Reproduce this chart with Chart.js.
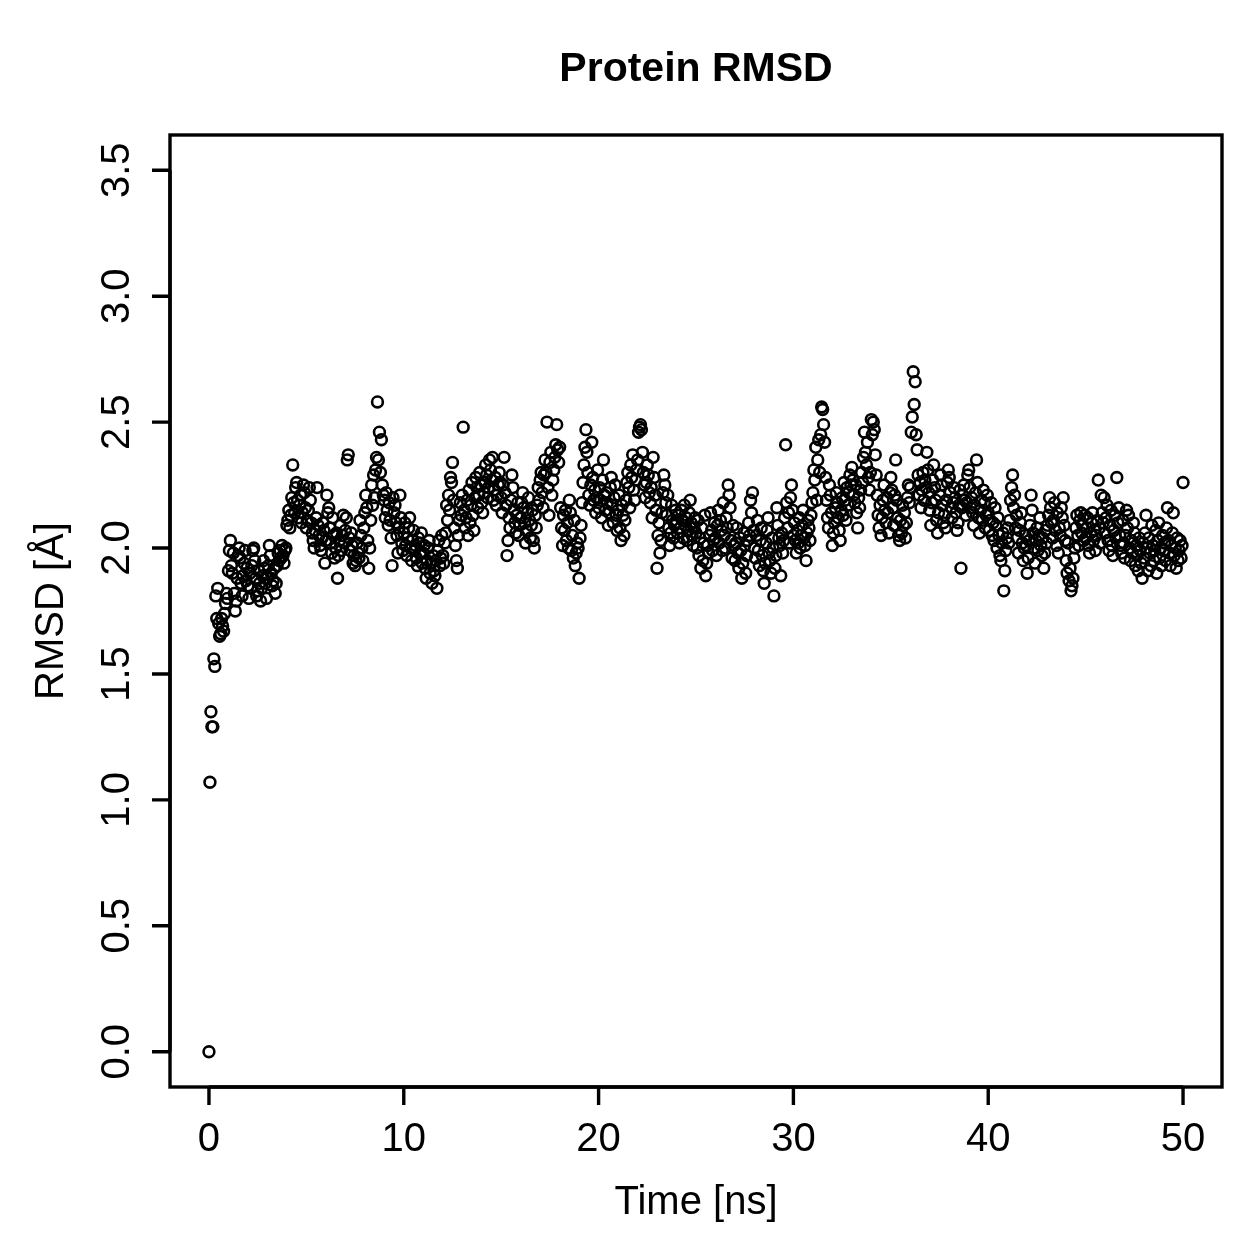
<!DOCTYPE html>
<html>
<head>
<meta charset="utf-8">
<title>Protein RMSD</title>
<script src="https://cdn.jsdelivr.net/npm/chart.js@4/dist/chart.umd.min.js"></script>
<style>
  html, body { margin: 0; padding: 0; background: #ffffff; }
  #wrap { width: 1259px; height: 1259px; }
</style>
</head>
<body>
<div id="wrap"><canvas id="rmsdChart" width="1259" height="1259"></canvas></div>
<script>
// Frame spacing of the trajectory (ns)
const frameStep = 0.05;

// RMSD per frame [Å] (one row = 1 ns)
const rmsd = [
  0.00,1.07,1.35,1.29,1.29,1.56,1.53,1.81,1.72,1.84,1.70,1.65,1.66,1.72,1.69,1.67,1.74,1.78,1.82,1.80,
  1.91,1.99,2.03,1.93,1.90,1.98,1.82,1.75,1.79,1.88,1.97,2.00,1.96,1.86,1.81,1.89,1.94,1.99,1.87,1.92,
  1.85,1.80,1.90,1.84,1.93,1.99,2.00,1.95,1.88,1.81,1.83,1.91,1.86,1.79,1.84,1.89,1.95,1.92,1.86,1.80,
  1.88,1.93,2.01,1.97,1.90,1.85,1.87,1.92,1.82,1.86,1.93,1.98,1.95,1.99,1.96,2.01,1.97,1.94,1.99,2.00,
  2.09,2.11,2.15,2.08,2.13,2.20,2.33,2.18,2.14,2.24,2.26,2.19,2.12,2.17,2.21,2.10,2.14,2.25,2.22,2.16,
  2.08,2.11,2.15,2.24,2.19,2.10,2.06,2.03,2.00,2.07,2.12,2.24,2.09,2.05,2.01,1.99,2.04,2.10,2.07,1.94,
  2.03,2.21,2.14,2.16,2.08,2.02,1.98,2.12,2.05,1.96,2.00,2.06,1.88,1.97,2.03,2.09,1.99,2.05,2.13,2.02,
  2.07,2.12,2.35,2.37,2.04,1.99,2.06,2.01,1.94,1.97,1.93,1.95,2.02,1.98,1.96,2.11,2.05,2.00,1.95,2.08,
  2.14,2.21,2.16,2.03,1.92,2.00,2.11,2.25,2.17,2.29,2.20,2.31,2.36,2.58,2.35,2.46,2.30,2.43,2.25,2.21,
  2.19,2.12,2.22,2.15,2.09,2.18,2.11,2.04,1.93,2.20,2.14,2.17,2.10,2.05,1.98,2.08,2.21,2.12,2.02,1.99,
  2.06,2.10,2.01,1.97,2.04,2.08,2.12,2.00,1.95,2.03,2.07,1.99,2.01,1.96,1.93,2.04,2.02,1.98,2.06,1.94,
  1.98,2.01,1.92,1.88,1.95,2.00,2.03,1.90,1.94,1.86,1.97,1.91,1.89,1.95,1.84,1.99,2.03,1.93,1.96,2.05,
  1.97,1.94,2.02,2.06,2.17,2.11,2.21,2.15,2.28,2.26,2.34,2.19,2.08,2.01,1.95,1.92,2.05,2.11,2.18,2.13,
  2.21,2.48,2.15,2.08,2.12,2.19,2.05,2.23,2.10,2.17,2.26,2.13,2.07,2.20,2.28,2.24,2.16,2.21,2.30,2.25,
  2.18,2.14,2.22,2.26,2.33,2.29,2.20,2.24,2.35,2.31,2.27,2.36,2.19,2.23,2.28,2.17,2.21,2.25,2.30,2.26,
  2.20,2.14,2.25,2.36,2.22,2.17,1.97,2.03,2.12,2.08,2.19,2.29,2.24,2.15,2.10,2.06,2.13,2.18,2.05,2.09,
  2.12,2.18,2.22,2.16,2.10,2.02,2.07,2.14,2.20,2.11,2.04,2.09,2.15,2.03,2.00,2.13,2.08,2.17,2.24,2.19,
  2.27,2.30,2.22,2.16,2.29,2.35,2.30,2.50,2.24,2.13,2.34,2.38,2.21,2.27,2.31,2.36,2.41,2.49,2.39,2.34,
  2.40,2.16,2.08,2.01,2.13,2.07,2.15,2.03,2.10,2.00,2.19,2.14,1.99,2.05,1.96,2.11,1.93,1.98,2.02,2.00,
  1.88,2.04,2.09,2.18,2.26,2.33,2.40,2.47,2.38,2.30,2.21,2.17,2.25,2.42,2.28,2.19,2.23,2.14,2.20,2.31,
  2.16,2.24,2.19,2.12,2.27,2.35,2.21,2.15,2.22,2.18,2.09,2.14,2.24,2.28,2.17,2.10,2.20,2.25,2.13,2.07,
  2.15,2.21,2.08,2.03,2.17,2.13,2.05,2.11,2.19,2.26,2.30,2.24,2.16,2.33,2.28,2.37,2.23,2.19,2.27,2.31,
  2.35,2.46,2.48,2.49,2.47,2.38,2.30,2.25,2.20,2.26,2.33,2.29,2.22,2.18,2.24,2.12,2.36,2.28,2.21,2.15,
  1.92,2.05,2.10,1.98,2.03,2.14,2.22,2.29,2.25,2.18,2.13,2.21,2.08,2.01,2.06,2.17,2.11,2.04,2.09,2.15,
  2.10,2.06,2.13,2.02,2.08,2.15,2.11,2.04,2.17,2.09,2.12,2.03,2.07,2.14,2.19,2.10,2.05,2.01,2.08,2.12,
  2.06,2.00,2.11,1.97,2.04,1.92,2.08,1.95,2.02,2.13,1.89,1.94,2.01,1.98,2.05,2.14,2.07,1.99,2.03,2.10,
  2.04,1.97,2.09,2.15,2.02,2.11,2.07,1.99,2.18,2.05,2.00,2.12,2.08,2.25,2.21,2.16,2.03,1.96,2.09,2.01,
  1.95,2.02,2.08,1.98,1.92,2.04,1.99,1.88,1.94,2.06,2.01,1.90,1.97,2.03,2.10,2.05,2.19,2.14,2.22,2.07,
  2.00,1.96,2.05,2.11,1.99,1.93,2.03,2.08,1.97,1.91,1.86,1.94,2.02,2.07,2.12,1.98,1.95,1.90,2.04,2.00,
  1.81,1.92,1.97,2.16,2.09,2.04,2.01,1.89,2.06,1.98,2.03,2.12,2.41,2.18,2.08,2.14,2.02,2.20,2.25,2.15,
  2.05,2.10,2.03,1.98,2.07,2.02,2.12,2.00,2.05,2.09,2.15,2.04,2.01,1.95,2.06,2.11,2.08,2.03,2.13,2.18,
  2.22,2.31,2.27,2.40,2.19,2.35,2.43,2.30,2.45,2.56,2.55,2.49,2.42,2.28,2.19,2.12,2.08,2.25,2.21,2.14,
  2.01,2.06,2.10,2.16,2.22,2.18,2.12,2.07,2.03,2.15,2.20,2.13,2.26,2.19,2.11,2.24,2.17,2.22,2.29,2.25,
  2.32,2.27,2.21,2.18,2.25,2.14,2.08,2.20,2.16,2.23,2.30,2.26,2.36,2.46,2.38,2.33,2.42,2.28,2.23,2.30,
  2.51,2.45,2.50,2.47,2.37,2.29,2.21,2.13,2.08,2.17,2.05,2.12,2.19,2.25,2.15,2.10,2.20,2.14,2.06,2.22,
  2.28,2.23,2.16,2.09,2.21,2.35,2.19,2.12,2.05,2.03,2.11,2.06,2.17,2.09,2.14,2.04,2.10,2.20,2.25,2.18,
  2.24,2.46,2.52,2.70,2.57,2.66,2.45,2.39,2.29,2.21,2.26,2.16,2.23,2.30,2.19,2.27,2.24,2.38,2.31,2.22,
  2.15,2.09,2.18,2.27,2.33,2.24,2.19,2.11,2.06,2.14,2.21,2.29,2.25,2.17,2.10,2.13,2.08,2.19,2.26,2.31,
  2.28,2.22,2.16,2.12,2.18,2.24,2.20,2.14,2.07,2.10,2.17,2.23,1.92,2.16,2.21,2.25,2.19,2.13,2.18,2.29,
  2.31,2.24,2.16,2.20,2.14,2.09,2.17,2.22,2.35,2.26,2.12,2.06,2.15,2.19,2.11,2.23,2.18,2.08,2.13,2.21,
  2.14,2.07,2.11,2.18,2.05,2.10,2.03,2.16,2.09,2.00,2.12,2.05,1.97,1.95,2.02,2.06,1.83,1.91,1.99,2.04,
  2.08,2.02,2.11,2.19,2.24,2.29,2.16,2.21,2.08,2.13,2.04,1.98,2.07,2.10,2.14,2.02,1.95,2.00,2.05,2.01,
  1.90,1.96,2.03,2.09,2.21,2.15,2.06,2.00,1.94,2.03,2.08,1.99,2.05,2.12,2.01,1.97,2.04,1.92,1.98,2.07,
  2.02,2.09,2.13,2.20,2.16,2.10,2.04,2.11,2.18,2.07,2.01,2.14,1.98,2.08,2.05,2.16,2.12,2.20,2.09,2.03,
  1.95,1.90,2.02,1.87,1.92,1.83,1.85,1.88,1.96,2.00,2.08,2.13,2.05,2.01,2.11,2.14,2.06,2.09,2.03,2.13,
  2.04,2.08,2.12,2.01,1.98,2.06,2.10,2.14,2.03,2.07,1.99,2.05,2.11,2.27,2.08,2.02,2.21,2.14,2.10,2.20,
  2.06,2.12,2.17,2.03,1.99,2.09,2.15,2.01,1.97,2.07,2.13,2.04,2.28,2.10,2.16,2.05,2.01,1.98,2.11,2.02,
  1.96,2.05,2.15,2.08,2.13,2.00,1.95,2.03,1.98,2.10,2.06,1.93,2.01,1.97,1.91,2.04,1.99,1.94,1.88,2.02,
  1.96,2.06,2.13,2.00,1.91,2.04,1.98,1.93,2.09,2.01,1.95,1.99,2.07,1.90,2.03,2.10,1.96,2.00,1.93,2.05,
  1.99,2.02,1.95,2.08,2.16,2.03,1.98,1.93,2.01,2.06,2.14,1.97,2.00,1.92,2.04,1.95,1.99,2.03,1.96,2.01,
  2.26
];

// Axis ticks
const xTicks = [0, 10, 20, 30, 40, 50];
const yTicks = [0.0, 0.5, 1.0, 1.5, 2.0, 2.5, 3.0, 3.5];

const points = rmsd.map((v, i) => ({ x: i * frameStep, y: v }));

const FONT = '"Liberation Sans", Arial, Helvetica, sans-serif';

// Draws R-style box, axes, ticks and labels from the chart's scales
const baseAxes = {
  id: 'baseAxes',
  afterDraw(chart) {
    const c = chart.ctx;
    const a = chart.chartArea;
    const xs = chart.scales.x;
    const ys = chart.scales.y;
    const tickLen = 18;
    c.save();
    c.strokeStyle = '#000';
    c.fillStyle = '#000';
    c.lineWidth = 3.4;
    c.strokeRect(a.left, a.top, a.right - a.left, a.bottom - a.top);

    // x axis
    c.beginPath();
    c.moveTo(xs.getPixelForValue(xTicks[0]), a.bottom);
    c.lineTo(xs.getPixelForValue(xTicks[xTicks.length - 1]), a.bottom);
    xTicks.forEach(t => {
      const px = xs.getPixelForValue(t);
      c.moveTo(px, a.bottom);
      c.lineTo(px, a.bottom + tickLen);
    });
    // y axis
    c.moveTo(a.left, ys.getPixelForValue(yTicks[0]));
    c.lineTo(a.left, ys.getPixelForValue(yTicks[yTicks.length - 1]));
    yTicks.forEach(t => {
      const py = ys.getPixelForValue(t);
      c.moveTo(a.left, py);
      c.lineTo(a.left - tickLen, py);
    });
    c.stroke();

    c.font = '40px ' + FONT;
    c.textAlign = 'center';
    c.textBaseline = 'middle';
    xTicks.forEach(t => {
      c.fillText(String(t), xs.getPixelForValue(t), a.bottom + 53);
    });
    yTicks.forEach(t => {
      c.save();
      c.translate(a.left - 52, ys.getPixelForValue(t));
      c.rotate(-Math.PI / 2);
      c.fillText(t.toFixed(1), 0, 0);
      c.restore();
    });

    // axis titles
    c.fillText('Time [ns]', (a.left + a.right) / 2, a.bottom + 116);
    c.save();
    c.translate(a.left - 118, (a.top + a.bottom) / 2);
    c.rotate(-Math.PI / 2);
    c.fillText('RMSD [Å]', 0, 0);
    c.restore();

    // main title
    c.font = 'bold 41px ' + FONT;
    c.fillText('Protein RMSD', (a.left + a.right) / 2, 70);
    c.restore();
  }
};

const ctx = document.getElementById('rmsdChart').getContext('2d');
const rmsdChart = new Chart(ctx, {
  type: 'scatter',
  data: {
    datasets: [{
      label: 'RMSD',
      data: points,
      pointStyle: 'circle',
      pointRadius: 5.4,
      pointBorderWidth: 2.6,
      pointBorderColor: '#000',
      pointBackgroundColor: 'rgba(0,0,0,0)',
      showLine: false
    }]
  },
  options: {
    responsive: false,
    animation: false,
    devicePixelRatio: 1,
    layout: { padding: { left: 170, top: 135, right: 37, bottom: 172 } },
    scales: {
      x: { type: 'linear', min: -2, max: 52, display: false },
      y: { type: 'linear', min: -0.14, max: 3.64, display: false }
    },
    plugins: {
      legend: { display: false },
      tooltip: { enabled: false }
    }
  },
  plugins: [baseAxes]
});
</script>
</body>
</html>
